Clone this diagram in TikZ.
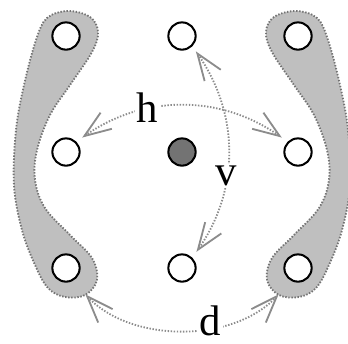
\documentclass[tikz,border=0pt]{standalone}
\usepackage{fontspec}
\setmainfont{Liberation Serif}
\usetikzlibrary{arrows.meta}

\begin{document}
\begin{tikzpicture}[
    site/.style={circle, draw, line width=1pt, fill=white, minimum size=0.47cm, inner sep=0pt},
    blob/.style={fill=black!25, draw=black!55, line width=0.9pt, dash pattern=on 0.7pt off 0.8pt},
    barb/.tip={Straight Barb[length=4.6mm, width=3.4mm, line width=0.9pt]},
    hop/.style={draw=black!45, line width=0.9pt, dash pattern=on 0.7pt off 0.8pt, barb-barb},
    lbl/.style={fill=white, inner sep=1pt, font=\fontsize{21}{25}\selectfont}]
  \useasboundingbox (-3.138,-3.310) rectangle (2.862,2.621);

  % shaded pairs on both sides
  \path[blob] plot[smooth cycle, tension=0.6] coordinates {
    (-1.966,2.431) (-1.586,2.328) (-1.448,2.069) (-1.552,1.724) (-1.931,1.155)
    (-2.276,0.638) (-2.500,0.034) (-2.534,-0.483) (-2.362,-0.966) (-1.931,-1.431)
    (-1.552,-1.828) (-1.466,-2.207) (-1.672,-2.466) (-2.017,-2.500) (-2.310,-2.345)
    (-2.534,-1.948) (-2.759,-1.345) (-2.897,-0.569) (-2.862,0.379) (-2.724,1.155)
    (-2.517,1.931) (-2.328,2.310)};
  \begin{scope}[xscale=-1]
    \path[blob] plot[smooth cycle, tension=0.6] coordinates {
      (-1.966,2.431) (-1.586,2.328) (-1.448,2.069) (-1.552,1.724) (-1.931,1.155)
      (-2.276,0.638) (-2.500,0.034) (-2.534,-0.483) (-2.362,-0.966) (-1.931,-1.431)
      (-1.552,-1.828) (-1.466,-2.207) (-1.672,-2.466) (-2.017,-2.500) (-2.310,-2.345)
      (-2.534,-1.948) (-2.759,-1.345) (-2.897,-0.569) (-2.862,0.379) (-2.724,1.155)
      (-2.517,1.931) (-2.328,2.310)};
  \end{scope}

  % lattice sites
  \node[site] (tl) at (-2,2) {};
  \node[site] (tm) at (0,2) {};
  \node[site] (tr) at (2,2) {};
  \node[site] (ml) at (-2,0) {};
  \node[site, fill=black!55] (c) at (0,0) {};
  \node[site] (mr) at (2,0) {};
  \node[site] (bl) at (-2,-2) {};
  \node[site] (bm) at (0,-2) {};
  \node[site] (br) at (2,-2) {};

  % hops
  \draw[hop, shorten <=3.5pt, shorten >=3.5pt] (ml.45) to[out=35, in=145]
    node[lbl, pos=0.34, yshift=1pt] (h) {h} (mr.135);
  \draw[hop, shorten <=3pt, shorten >=3.5pt] (tm.-45) to[out=-55, in=55]
    node[lbl, pos=0.61] (v) {v} (bm.45);
  \draw[hop, shorten <=9pt, shorten >=9pt] (bl.-62) to[out=-47, in=-133]
    node[lbl, pos=0.62, yshift=2pt] (d) {d} (br.-118);
\end{tikzpicture}
\end{document}
